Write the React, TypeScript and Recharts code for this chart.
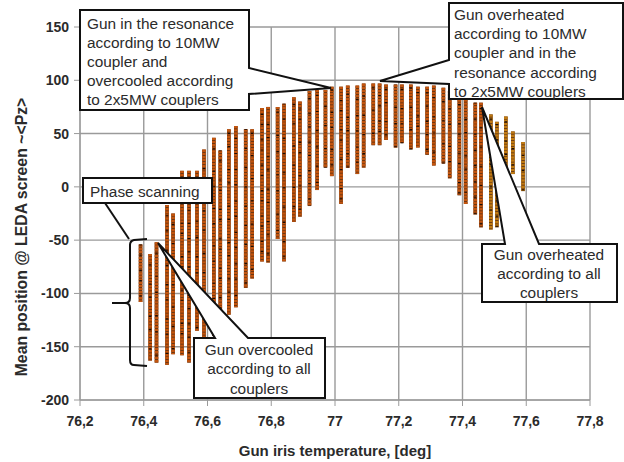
import React from 'react';
import { ScatterChart, Scatter, XAxis, YAxis, CartesianGrid } from 'recharts';

// One entry per temperature step: column top and bottom of the scan
const temps = [
  76.39, 76.42, 76.44, 76.473, 76.492, 76.52, 76.542, 76.567, 76.589, 76.62, 76.64,
  76.667, 76.689, 76.72, 76.74, 76.771, 76.79, 76.82, 76.84, 76.871, 76.89, 76.92,
  76.944, 76.97, 76.99, 77.019, 77.04, 77.07, 77.09, 77.12, 77.14, 77.16, 77.19,
  77.21, 77.238, 77.26, 77.289, 77.31, 77.34, 77.36, 77.39, 77.41, 77.44, 77.458,
  77.489, 77.508, 77.536, 77.558, 77.59,
];
const tops = [
  -54, -63, -52, -17, -25, 15, 15, 15, 35, 46, 34,
  54, 57, 54, 54, 74, 75, 75, 78, 84, 80, 90,
  91, 91, 94, 94, 95, 95, 97, 97, 97, 96, 96,
  96, 96, 94, 94, 95, 93, 90, 85, 85, 79, 79,
  68, 61, 66, 52, 42,
];
const bottoms = [
  -108, -163, -165, -167, -157, -158, -165, -135, -150, -140, -130,
  -120, -113, -95, -86, -70, -71, -49, -70, -33, -28, -18,
  -3, 18, 10, -16, 18, 12, 18, 39, 39, 44, 37,
  41, 35, 37, 30, 20, 22, 8, -8, -16, -26, -38,
  -40, -38, 13, 12, -4,
];

const xTicks = [76.2, 76.4, 76.6, 76.8, 77, 77.2, 77.4, 77.6, 77.8];
const yTicks = [-200, -150, -100, -50, 0, 50, 100, 150];

const FONT = '"Liberation Sans", Arial, sans-serif';
const INK = '#2b2b2b';
const GRID = '#9a9a9a';

const columnData = (i: number) => [
  { x: temps[i], y: tops[i] },
  { x: temps[i], y: bottoms[i] },
];

const Callouts = () => (
  <svg width={624} height={462} style={{ position: 'absolute', left: 0, top: 0, pointerEvents: 'none' }} fontFamily={FONT} fontSize={15.4} fill={INK}>
    <g stroke="#111" strokeWidth={2}>
      {/* resonance / overcooled */}
      <polygon points="80,10 249,10 249,68 331,88 249,94 249,110 80,110" fill="#fff" />
      {/* overheated / resonance */}
      <polygon points="449,3 623,3 623,99 449,99 449,84 380,81 449,60" fill="#fff" />
      {/* phase scanning */}
      <line x1={105} y1={203} x2={129} y2={239} />
      <rect x={83} y={178} width={129} height={25} fill="#fff" />
      <path d="M147,239 L134,240 Q130,241 130,245 L130,298 Q130,303 125,303 L112,303 M125,303 Q130,303 130,308 L130,360 Q130,365 134,365 L147,366" fill="none" />
      {/* overcooled */}
      <polygon points="194,338 215,338 158,243 248,338 325,338 325,398 194,398" fill="#fff" />
      {/* overheated all */}
      <polygon points="482,244 505,244 482,107 539,244 617,244 617,302 482,302" fill="#fff" />
    </g>
    <g dominantBaseline="central">
      <text x={87} y={23}>Gun in the resonance</text>
      <text x={87} y={42}>according to 10MW</text>
      <text x={87} y={61}>coupler and</text>
      <text x={87} y={80}>overcooled according</text>
      <text x={87} y={99}>to 2x5MW couplers</text>
      <text x={454} y={14}>Gun overheated</text>
      <text x={454} y={33}>according to 10MW</text>
      <text x={454} y={52}>coupler and in the</text>
      <text x={454} y={72}>resonance according</text>
      <text x={454} y={91}>to 2x5MW couplers</text>
      <text x={90} y={191}>Phase scanning</text>
      <text x={259} y={349} textAnchor="middle">Gun overcooled</text>
      <text x={259} y={368} textAnchor="middle">according to all</text>
      <text x={259} y={388} textAnchor="middle">couplers</text>
      <text x={549} y={254} textAnchor="middle">Gun overheated</text>
      <text x={549} y={273} textAnchor="middle">according to all</text>
      <text x={549} y={292} textAnchor="middle">couplers</text>
    </g>
  </svg>
);

const App = () => {
  const tick = { fontFamily: FONT, fontSize: 14, fontWeight: 700, fill: INK };
  return (
    <div style={{ position: 'absolute', left: 0, top: 0, width: 624, height: 462, background: '#fff' }}>
      <ScatterChart width={624} height={462} margin={{ top: 27, right: 34, bottom: 0, left: 0 }}>
        <CartesianGrid stroke={GRID} strokeWidth={1.4} />
        <XAxis
          type="number"
          dataKey="x"
          domain={[76.2, 77.8]}
          ticks={xTicks}
          tickFormatter={(v: number) => String(v).replace('.', ',')}
          tick={tick}
          tickLine={{ stroke: GRID }}
          axisLine={{ stroke: GRID }}
          tickMargin={10}
          height={62}
          interval={0}
          allowDataOverflow
          label={{ value: 'Gun iris temperature, [deg]', position: 'insideBottom', offset: 6, style: { fontFamily: FONT, fontSize: 15, fontWeight: 700, fill: INK } }}
        />
        <YAxis
          type="number"
          dataKey="y"
          domain={[-200, 150]}
          ticks={yTicks}
          tick={tick}
          tickLine={{ stroke: GRID }}
          axisLine={{ stroke: GRID }}
          tickMargin={5}
          width={80}
          interval={0}
          allowDataOverflow
          label={() => (
            <text
              transform="rotate(-90 21 237)"
              x={21}
              y={237}
              textAnchor="middle"
              dominantBaseline="central"
              fontFamily={FONT}
              fontSize={15.8}
              fontWeight={700}
              fill={INK}
            >
              {'Mean position @ LEDA screen ~<Pz>'}
            </text>
          )}
        />
        {temps.map((t, i) => (
          <Scatter
            key={`base-${t}`}
            data={columnData(i)}
            line={{ stroke: '#5a2c0c', strokeWidth: 3.7 }}
            shape={() => <g />}
            isAnimationActive={false}
          />
        ))}
        {temps.map((t, i) => (
          <Scatter
            key={`beads-${t}`}
            data={columnData(i)}
            line={{ stroke: t > 77.47 ? '#c07a12' : '#c2540e', strokeWidth: 3.7, strokeDasharray: '2.4 0.7' }}
            shape={() => <g />}
            isAnimationActive={false}
          />
        ))}
        {/* dark flecks where many scan points pile up */}
        {temps.map((t, i) => (
          <Scatter
            key={`flecks-${t}`}
            data={columnData(i)}
            line={{ stroke: '#1a0c04', strokeWidth: 2.6, strokeDasharray: `1.2 ${9 + (i % 5) * 3} 1.2 ${14 + (i % 3) * 4}`, strokeDashoffset: i * 3 }}
            shape={() => <g />}
            isAnimationActive={false}
          />
        ))}
      </ScatterChart>
      <Callouts />
    </div>
  );
};

export default App;
